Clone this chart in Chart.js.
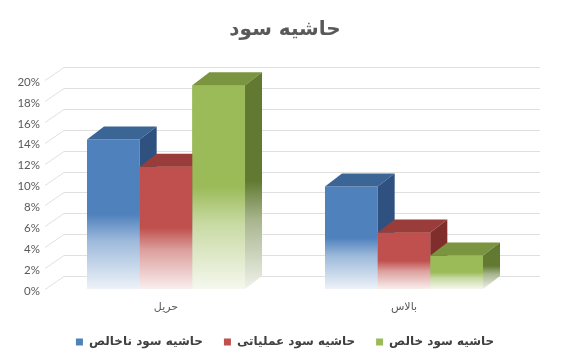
<!DOCTYPE html>
<html><head><meta charset="utf-8">
<script src="https://cdn.jsdelivr.net/npm/chart.js@4"></script>
<style>html,body{margin:0;padding:0;background:#fff}</style>
</head><body>
<canvas id="c" width="562" height="358"></canvas>
<script>
const categories = ['حریل', 'بالاس'];
const seriesNames = ['حاشیه سود ناخالص', 'حاشیه سود عملیاتی', 'حاشیه سود خالص'];
const grossMargin = [14.3, 9.8];
const operatingMargin = [11.7, 5.4];
const netMargin = [19.5, 3.2];
const yTickValues = [0, 2, 4, 6, 8, 10, 12, 14, 16, 18, 20];
const chartTitle = 'حاشیه سود';

const FRONT = ['#4F81BD', '#C0504D', '#9BBB59'];
const TOP = ['#3A6595', '#9A3C39', '#7A9440'];
const SIDE = ['#2E5180', '#7F2E2C', '#617931'];
const DX = 17, DY = -13;

function mix(hex, t) {
  const n = parseInt(hex.slice(1), 16);
  const r = n >> 16, g = (n >> 8) & 255, b = n & 255;
  const f = v => Math.round(v + (255 - v) * t);
  return 'rgb(' + f(r) + ',' + f(g) + ',' + f(b) + ')';
}
function fade(c2d, top, base, color) {
  const g = c2d.createLinearGradient(0, top, 0, base);
  g.addColorStop(0, color);
  g.addColorStop(0.5, color);
  g.addColorStop(0.68, mix(color, 0.45));
  g.addColorStop(1, mix(color, 0.9));
  return g;
}
function frontColor(c) {
  const ch = c.chart;
  if (c.type !== 'data' || !ch.chartArea) return FRONT[c.datasetIndex];
  const y = ch.scales.y;
  return fade(ch.ctx, y.getPixelForValue(c.raw), y.getPixelForValue(0), FRONT[c.datasetIndex]);
}

const threeD = {
  id: 'threeD',
  beforeDatasetsDraw(chart) {
    const ctx = chart.ctx, y = chart.scales.y, a = chart.chartArea;
    ctx.save();
    ctx.strokeStyle = '#e0e0e0';
    ctx.lineWidth = 1;
    y.ticks.forEach(t => {
      const py = Math.round(y.getPixelForValue(t.value)) + 0.5;
      ctx.beginPath();
      ctx.moveTo(a.left - 2, py);
      ctx.lineTo(a.left + DX, py + DY);
      ctx.lineTo(a.right + DX, py + DY);
      ctx.stroke();
    });
    ctx.restore();
  },
  afterDatasetsDraw(chart) {
    const ctx = chart.ctx;
    chart.data.datasets.forEach((ds, d) => {
      const meta = chart.getDatasetMeta(d);
      meta.data.forEach(el => {
        if (d > 0) el.draw(ctx);
        const p = el.getProps(['x', 'y', 'base', 'width'], true);
        const L = p.x - p.width / 2, R = p.x + p.width / 2;
        ctx.save();
        ctx.fillStyle = TOP[d];
        ctx.beginPath();
        ctx.moveTo(L, p.y); ctx.lineTo(R, p.y);
        ctx.lineTo(R + DX, p.y + DY); ctx.lineTo(L + DX, p.y + DY);
        ctx.closePath(); ctx.fill();
        ctx.fillStyle = fade(ctx, p.y + DY, p.base, SIDE[d]);
        ctx.beginPath();
        ctx.moveTo(R, p.y); ctx.lineTo(R + DX, p.y + DY);
        ctx.lineTo(R + DX, p.base + DY); ctx.lineTo(R, p.base);
        ctx.closePath(); ctx.fill();
        ctx.restore();
      });
    });
  }
};

const seriesValues = [grossMargin, operatingMargin, netMargin];

new Chart(document.getElementById('c'), {
  type: 'bar',
  data: {
    labels: categories,
    datasets: seriesNames.map((name, i) => ({
      label: name,
      data: seriesValues[i],
      backgroundColor: frontColor,
      borderWidth: 0,
      categoryPercentage: 0.664,
      barPercentage: 1
    }))
  },
  plugins: [threeD],
  options: {
    responsive: false,
    animation: false,
    layout: { padding: { left: 12, right: 4, top: 0, bottom: 0 } },
    scales: {
      x: {
        grid: { display: false, drawTicks: false },
        border: { display: false },
        ticks: { color: '#595959', padding: 12, font: { family: "'DejaVu Sans'", size: 11 } },
        afterFit(s) { s.height = 26; }
      },
      y: {
        min: 0, max: 20,
        grid: { display: false, drawTicks: false },
        border: { display: false },
        afterBuildTicks(s) { s.ticks = yTickValues.map(v => ({ value: v })); },
        ticks: { color: '#595959', padding: 7, labelOffset: 2, font: { family: 'Lato', size: 11.5 }, callback: v => v + '%' },
        afterFit(s) { s.width = 35; }
      },
      yR: {
        type: 'linear', position: 'right', display: true,
        grid: { display: false, drawTicks: false }, border: { display: false },
        ticks: { display: false },
        afterFit(s) { s.width = 35; }
      }
    },
    plugins: {
      title: {
        display: true, text: chartTitle, color: '#595959',
        font: { family: "'DejaVu Sans'", size: 20, weight: 'bold' },
        padding: { top: 18, bottom: 38 }
      },
      legend: {
        position: 'bottom',
        labels: {
          boxWidth: 7, boxHeight: 7, padding: 21, color: '#404040',
          font: { family: "'DejaVu Sans'", size: 12, weight: 'bold' },
          generateLabels(chart) {
            return chart.data.datasets.map((ds, i) => ({
              text: ds.label, fillStyle: FRONT[i], strokeStyle: FRONT[i],
              lineWidth: 0, datasetIndex: i, hidden: false, fontColor: '#404040'
            }));
          }
        }
      },
      tooltip: { enabled: false }
    }
  }
});
</script>
</body></html>
